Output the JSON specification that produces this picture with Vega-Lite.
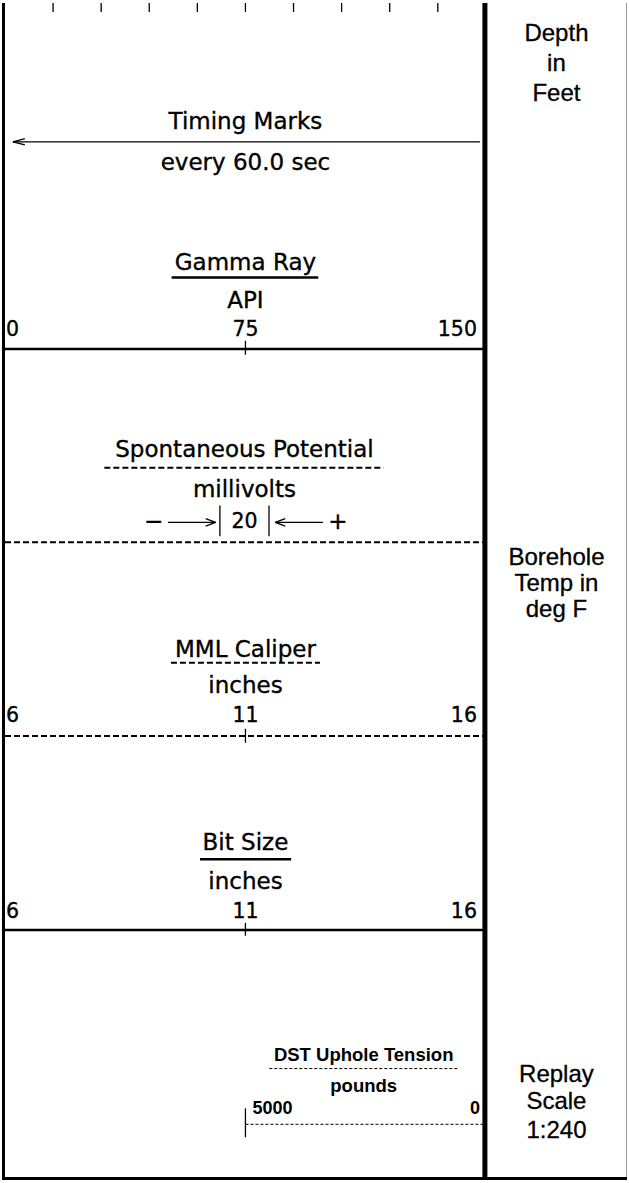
{
  "$schema": "https://vega.github.io/schema/vega-lite/v6.json",
  "width": 629,
  "height": 1183,
  "autosize": {"type": "fit", "contains": "padding"},
  "padding": 0,
  "background": "white",
  "config": {"view": {"stroke": null}},
  "datasets": {
    "frame": [
      {"x": 1.5, "y": 0, "x2": 1.5, "y2": 1183},
      {"x": 0, "y": 1181.5, "x2": 629, "y2": 1181.5}
    ],
    "divider": [{"x": 486, "y": 0, "x2": 486, "y2": 1183}],
    "rightBorder": [{"x": 628.5, "y": 0, "x2": 628.5, "y2": 1183}],
    "solid": [
      {"x": 170.7, "y": 276, "x2": 318.3, "y2": 276},
      {"x": 3, "y": 347.7, "x2": 484, "y2": 347.7},
      {"x": 199.3, "y": 860.7, "x2": 291, "y2": 860.7},
      {"x": 3, "y": 931.7, "x2": 484, "y2": 931.7}
    ],
    "dashed": [
      {"x": 103, "y": 467, "x2": 384, "y2": 467},
      {"x": 3, "y": 542, "x2": 484, "y2": 542},
      {"x": 170, "y": 663, "x2": 320, "y2": 663},
      {"x": 3, "y": 736.7, "x2": 484, "y2": 736.7}
    ],
    "thin": [
      {"x": 51.4, "y": 0, "x2": 51.4, "y2": 9},
      {"x": 99.8, "y": 0, "x2": 99.8, "y2": 9},
      {"x": 148.2, "y": 0, "x2": 148.2, "y2": 9},
      {"x": 196.6, "y": 0, "x2": 196.6, "y2": 9},
      {"x": 245, "y": 0, "x2": 245, "y2": 9},
      {"x": 293.4, "y": 0, "x2": 293.4, "y2": 9},
      {"x": 341.8, "y": 0, "x2": 341.8, "y2": 9},
      {"x": 390.2, "y": 0, "x2": 390.2, "y2": 9},
      {"x": 438.6, "y": 0, "x2": 438.6, "y2": 9},
      {"x": 11, "y": 139.5, "x2": 481, "y2": 139.5},
      {"x": 11, "y": 139.5, "x2": 23, "y2": 136.3},
      {"x": 11, "y": 139.5, "x2": 23, "y2": 142.7},
      {"x": 245, "y": 339.5, "x2": 245, "y2": 353.5},
      {"x": 245, "y": 729.5, "x2": 245, "y2": 743.5},
      {"x": 245, "y": 924.5, "x2": 245, "y2": 937.5},
      {"x": 245, "y": 1111, "x2": 245, "y2": 1140},
      {"x": 219.3, "y": 505, "x2": 219.3, "y2": 536},
      {"x": 268.7, "y": 505, "x2": 268.7, "y2": 536},
      {"x": 167, "y": 522, "x2": 215, "y2": 522},
      {"x": 215, "y": 522, "x2": 205, "y2": 518.3},
      {"x": 215, "y": 522, "x2": 205, "y2": 525.7},
      {"x": 275, "y": 522, "x2": 323, "y2": 522},
      {"x": 275, "y": 522, "x2": 285, "y2": 518.3},
      {"x": 275, "y": 522, "x2": 285, "y2": 525.7}
    ],
    "thinDashed": [
      {"x": 269, "y": 1071, "x2": 460, "y2": 1071},
      {"x": 245, "y": 1127, "x2": 484, "y2": 1127}
    ],
    "titles": [
      {"label": "Timing Marks", "x": 245, "y": 127},
      {"label": "every 60.0 sec", "x": 245, "y": 168},
      {"label": "Gamma Ray", "x": 245, "y": 268},
      {"label": "API", "x": 245, "y": 307},
      {"label": "Spontaneous Potential", "x": 244, "y": 456},
      {"label": "millivolts", "x": 244, "y": 497},
      {"label": "−", "x": 152.5, "y": 529},
      {"label": "+", "x": 338, "y": 529},
      {"label": "MML Caliper", "x": 245, "y": 657},
      {"label": "inches", "x": 245, "y": 694},
      {"label": "Bit Size", "x": 245, "y": 851},
      {"label": "inches", "x": 245, "y": 891}
    ],
    "scaleLabels": [
      {"label": "0", "end": "min", "x": 4, "y": 335},
      {"label": "75", "end": "mid", "x": 245, "y": 335},
      {"label": "150", "end": "max", "x": 478, "y": 335},
      {"label": "20", "end": "mid", "x": 244, "y": 528},
      {"label": "6", "end": "min", "x": 4, "y": 723},
      {"label": "11", "end": "mid", "x": 245, "y": 723},
      {"label": "16", "end": "max", "x": 478, "y": 723},
      {"label": "6", "end": "min", "x": 4, "y": 920},
      {"label": "11", "end": "mid", "x": 245, "y": 920},
      {"label": "16", "end": "max", "x": 478, "y": 920}
    ],
    "dstTitles": [
      {"label": "DST Uphole Tension", "x": 364, "y": 1063},
      {"label": "pounds", "x": 364, "y": 1095}
    ],
    "dstScale": [
      {"label": "5000", "end": "min", "x": 252, "y": 1117},
      {"label": "0", "end": "max", "x": 481, "y": 1117}
    ],
    "rightPanel": [
      {"label": "Depth", "x": 558, "y": 38},
      {"label": "in", "x": 558, "y": 68},
      {"label": "Feet", "x": 558, "y": 98},
      {"label": "Borehole", "x": 558, "y": 565},
      {"label": "Temp in", "x": 558, "y": 591},
      {"label": "deg F", "x": 558, "y": 617},
      {"label": "Replay", "x": 558, "y": 1084},
      {"label": "Scale", "x": 558, "y": 1112},
      {"label": "1:240", "x": 558, "y": 1141}
    ]
  },
  "encoding": {
    "x": {"field": "x", "type": "quantitative", "scale": {"domain": [0, 629], "nice": false, "zero": false}, "axis": null},
    "y": {"field": "y", "type": "quantitative", "scale": {"domain": [0, 1183], "nice": false, "zero": false, "reverse": true}, "axis": null}
  },
  "layer": [
    {
      "data": {"name": "rightBorder"},
      "mark": {"type": "rule", "stroke": "#9a9a9a", "strokeWidth": 1},
      "encoding": {"x2": {"field": "x2"}, "y2": {"field": "y2"}}
    },
    {
      "data": {"name": "frame"},
      "mark": {"type": "rule", "stroke": "black", "strokeWidth": 3},
      "encoding": {"x2": {"field": "x2"}, "y2": {"field": "y2"}}
    },
    {
      "data": {"name": "divider"},
      "mark": {"type": "rule", "stroke": "black", "strokeWidth": 5},
      "encoding": {"x2": {"field": "x2"}, "y2": {"field": "y2"}}
    },
    {
      "data": {"name": "solid"},
      "mark": {"type": "rule", "stroke": "black", "strokeWidth": 2.5},
      "encoding": {"x2": {"field": "x2"}, "y2": {"field": "y2"}}
    },
    {
      "data": {"name": "dashed"},
      "mark": {"type": "rule", "stroke": "black", "strokeWidth": 2, "strokeDash": [6, 3]},
      "encoding": {"x2": {"field": "x2"}, "y2": {"field": "y2"}}
    },
    {
      "data": {"name": "thin"},
      "mark": {"type": "rule", "stroke": "black", "strokeWidth": 1.3},
      "encoding": {"x2": {"field": "x2"}, "y2": {"field": "y2"}}
    },
    {
      "data": {"name": "thinDashed"},
      "mark": {"type": "rule", "stroke": "black", "strokeWidth": 1, "strokeDash": [3, 2]},
      "encoding": {"x2": {"field": "x2"}, "y2": {"field": "y2"}}
    },
    {
      "data": {"name": "titles"},
      "mark": {"type": "text", "font": "DejaVu Sans", "fontSize": 23, "align": "center", "baseline": "alphabetic", "color": "black", "stroke": "black", "strokeWidth": 0.35},
      "encoding": {"text": {"field": "label"}}
    },
    {
      "data": {"name": "scaleLabels"},
      "transform": [{"filter": "datum.end === 'min'"}],
      "mark": {"type": "text", "font": "DejaVu Sans", "fontSize": 20.5, "align": "left", "baseline": "alphabetic", "color": "black", "stroke": "black", "strokeWidth": 0.35},
      "encoding": {"text": {"field": "label"}}
    },
    {
      "data": {"name": "scaleLabels"},
      "transform": [{"filter": "datum.end === 'mid'"}],
      "mark": {"type": "text", "font": "DejaVu Sans", "fontSize": 20.5, "align": "center", "baseline": "alphabetic", "color": "black", "stroke": "black", "strokeWidth": 0.35},
      "encoding": {"text": {"field": "label"}}
    },
    {
      "data": {"name": "scaleLabels"},
      "transform": [{"filter": "datum.end === 'max'"}],
      "mark": {"type": "text", "font": "DejaVu Sans", "fontSize": 20.5, "align": "right", "baseline": "alphabetic", "color": "black", "stroke": "black", "strokeWidth": 0.35},
      "encoding": {"text": {"field": "label"}}
    },
    {
      "data": {"name": "dstTitles"},
      "mark": {"type": "text", "font": "Liberation Sans", "fontWeight": "bold", "fontSize": 18.5, "align": "center", "baseline": "alphabetic", "color": "black"},
      "encoding": {"text": {"field": "label"}}
    },
    {
      "data": {"name": "dstScale"},
      "transform": [{"filter": "datum.end === 'min'"}],
      "mark": {"type": "text", "font": "Liberation Sans", "fontWeight": "bold", "fontSize": 18, "align": "left", "baseline": "alphabetic", "color": "black"},
      "encoding": {"text": {"field": "label"}}
    },
    {
      "data": {"name": "dstScale"},
      "transform": [{"filter": "datum.end === 'max'"}],
      "mark": {"type": "text", "font": "Liberation Sans", "fontWeight": "bold", "fontSize": 18, "align": "right", "baseline": "alphabetic", "color": "black"},
      "encoding": {"text": {"field": "label"}}
    },
    {
      "data": {"name": "rightPanel"},
      "mark": {"type": "text", "font": "Liberation Sans", "fontSize": 24, "align": "center", "baseline": "alphabetic", "color": "black", "stroke": "black", "strokeWidth": 0.3},
      "encoding": {"text": {"field": "label"}}
    }
  ]
}
